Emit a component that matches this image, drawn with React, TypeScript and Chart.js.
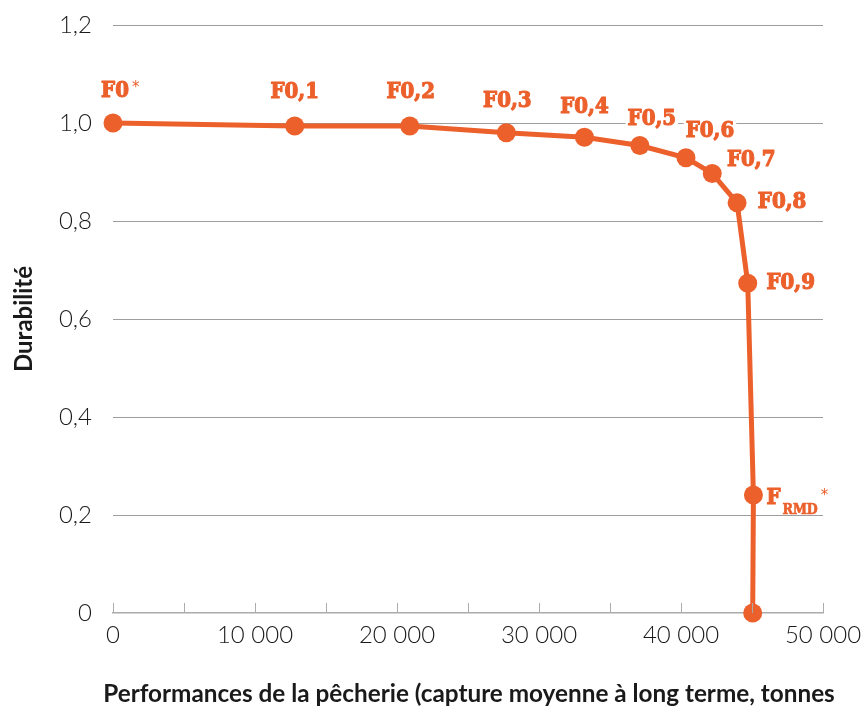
import React, { useEffect, useRef } from 'react';
import { Chart, registerables } from 'chart.js';

Chart.register(...registerables);

// ---- Data ----
const levelLabels = ['F0', 'F0,1', 'F0,2', 'F0,3', 'F0,4', 'F0,5', 'F0,6', 'F0,7', 'F0,8', 'F0,9', 'F', ''];
const levelSubscripts = ['', '', '', '', '', '', '', '', '', '', 'RMD', ''];
const levelSuperscripts = ['*', '', '', '', '', '', '', '', '', '', '*', ''];
const catchTonnes = [0, 12800, 20900, 27700, 33200, 37100, 40350, 42200, 43950, 44700, 45100, 45050];
const durability = [1.0, 0.994, 0.994, 0.98, 0.971, 0.954, 0.929, 0.897, 0.837, 0.673, 0.241, 0];

const xTitle = 'Performances de la pêcherie (capture moyenne à long terme, tonnes';
const yTitle = 'Durabilité';

// ---- Style ----
const ORANGE = '#EC602C';
const GRID = '#9e9e9e';
const AXIS = '#ababab';
const TEXT = '#1a1a1a';
const TICK_FONT = { family: 'Lato, "Open Sans", sans-serif', size: 24, weight: '300' as any };
const LABEL_FONT = 'bold 22px "DejaVu Serif Condensed", "DejaVu Serif", serif';
const SUB_FONT = 'bold 14px "DejaVu Serif Condensed", "DejaVu Serif", serif';
const STAR_FONT = '15px "DejaVu Sans", sans-serif';
const X_TITLE_WIDTH = 732;
const X_TITLE_CENTER = 469;
const X_TITLE_BASELINE = 702;
// label center offsets relative to each point (px)
const labelOffsets = [
  { dx: 2, dy: -34 },
  { dx: 0, dy: -36 },
  { dx: 1, dy: -36 },
  { dx: 1, dy: -34 },
  { dx: 0, dy: -32 },
  { dx: 12, dy: -29 },
  { dx: 24, dy: -29 },
  { dx: 39, dy: -15 },
  { dx: 45, dy: -3 },
  { dx: 43, dy: -2 },
  { dx: 20, dy: 1 },
  { dx: 0, dy: 0 },
];
const CAP = 16;

function labelBoxes(chart: any) {
  const meta = chart.getDatasetMeta(0);
  const ctx = chart.ctx;
  const out: any[] = [];
  meta.data.forEach((pt: any, i: number) => {
    const txt = levelLabels[i];
    if (!txt) return;
    ctx.save();
    ctx.font = LABEL_FONT;
    const w = ctx.measureText(txt).width;
    ctx.restore();
    const cx = pt.x + labelOffsets[i].dx;
    const cy = pt.y + labelOffsets[i].dy;
    out.push({ i, txt, w, cx, cy });
  });
  return out;
}

const labelPlugin = {
  id: 'levelLabels',
  beforeDatasetsDraw(chart: any) {
    const ctx = chart.ctx;
    ctx.save();
    ctx.fillStyle = '#ffffff';
    labelBoxes(chart).forEach((b) => {
      ctx.fillRect(b.cx - b.w / 2 - 2, b.cy - CAP / 2 - 3, b.w + 4, CAP + 8);
    });
    ctx.restore();
  },
  afterDatasetsDraw(chart: any) {
    const ctx = chart.ctx;
    ctx.save();
    ctx.fillStyle = ORANGE;
    ctx.strokeStyle = ORANGE;
    ctx.lineJoin = 'round';
    ctx.textBaseline = 'alphabetic';
    labelBoxes(chart).forEach((b) => {
      ctx.font = LABEL_FONT;
      ctx.textAlign = 'left';
      const x0 = b.cx - b.w / 2;
      const base = b.cy + CAP / 2;
      ctx.lineWidth = 1.1;
      ctx.fillText(b.txt, x0, base);
      ctx.strokeText(b.txt, x0, base);
      let xe = x0 + b.w;
      const sub = levelSubscripts[b.i];
      if (sub) {
        ctx.font = SUB_FONT;
        ctx.lineWidth = 0.6;
        ctx.fillText(sub, xe + 2, base + 10);
        ctx.strokeText(sub, xe + 2, base + 10);
        xe = xe + 2 + ctx.measureText(sub).width;
      }
      const sup = levelSuperscripts[b.i];
      if (sup) {
        ctx.font = STAR_FONT;
        ctx.fillText(sup, xe + 3, b.cy + (sub ? 4 : 3));
      }
    });
    ctx.restore();
  },
};

const xTickMarks = {
  id: 'xTickMarks',
  afterDraw(chart: any) {
    const sc = chart.scales.x;
    const ctx = chart.ctx;
    const y = chart.chartArea.bottom;
    ctx.save();
    ctx.strokeStyle = AXIS;
    ctx.lineWidth = 1;
    sc.ticks.forEach((t: any) => {
      const x = Math.round(sc.getPixelForValue(t.value)) + 0.5;
      ctx.beginPath();
      ctx.moveTo(x, y);
      ctx.lineTo(x, y - 10);
      ctx.stroke();
    });
    ctx.restore();
  },
};

// x-axis title is wider than the scale itself in the original, so it is drawn here
const xTitlePlugin = {
  id: 'xTitleWide',
  afterDraw(chart: any) {
    const ctx = chart.ctx;
    ctx.save();
    ctx.font = 'bold 20px Lato, "Open Sans", sans-serif';
    const w20 = ctx.measureText(xTitle).width;
    const size = (20 * X_TITLE_WIDTH) / w20;
    ctx.font = `bold ${size}px Lato, "Open Sans", sans-serif`;
    ctx.fillStyle = TEXT;
    ctx.textAlign = 'center';
    ctx.textBaseline = 'alphabetic';
    ctx.fillText(xTitle, X_TITLE_CENTER, X_TITLE_BASELINE);
    ctx.restore();
  },
};

function zeroPad(s: any) {
  s.paddingTop = 0;
  s.paddingBottom = 0;
  s.paddingLeft = 0;
  s.paddingRight = 0;
}

export default function App() {
  const ref = useRef<HTMLCanvasElement | null>(null);
  useEffect(() => {
    if (!ref.current) return;
    const chart = new Chart(ref.current, {
      type: 'line',
      data: {
        datasets: [
          {
            data: catchTonnes.map((x, i) => ({ x, y: durability[i] })),
            borderColor: ORANGE,
            backgroundColor: ORANGE,
            borderWidth: 5,
            pointRadius: 9.5,
            pointBorderWidth: 0,
            pointBackgroundColor: ORANGE,
            tension: 0,
            clip: false as any,
          },
        ],
      },
      options: {
        animation: false,
        responsive: false,
        events: [],
        layout: { padding: { left: 0, top: 25, right: 44, bottom: 0 }, autoPadding: false } as any,
        plugins: { legend: { display: false }, tooltip: { enabled: false } },
        scales: {
          x: {
            type: 'linear',
            min: 0,
            max: 50000,
            afterFit: (s: any) => { s.height = 93; zeroPad(s); },
            ticks: {
              stepSize: 5000,
              autoSkip: false,
              maxRotation: 0,
              padding: 8,
              color: TEXT,
              font: TICK_FONT,
              callback: (v: any) => (v % 10000 === 0 ? (v === 0 ? '0' : `${v / 1000} 000`) : ''),
            },
            grid: { display: false, drawTicks: false },
            border: { display: true, color: AXIS, width: 1.5 },
            title: { display: false, text: xTitle },
          },
          y: {
            type: 'linear',
            min: 0,
            max: 1.2,
            afterFit: (s: any) => { s.width = 113; zeroPad(s); },
            ticks: {
              stepSize: 0.2,
              padding: 21,
              color: TEXT,
              font: TICK_FONT,
              callback: (v: any) => (Math.abs(v) < 1e-9 ? '0' : Number(v).toFixed(1).replace('.', ',')),
            },
            grid: {
              drawTicks: false,
              color: (c: any) => (c.tick && Math.abs(c.tick.value) < 1e-9 ? 'rgba(0,0,0,0)' : GRID),
              lineWidth: 1,
            },
            border: { display: false },
            title: {
              display: true,
              text: yTitle,
              color: TEXT,
              font: { family: 'Lato, "Open Sans", sans-serif', size: 24, weight: 'bold' },
              padding: { top: 10, bottom: 0 },
            },
          },
        },
      },
      plugins: [labelPlugin, xTickMarks, xTitlePlugin],
    });
    return () => chart.destroy();
  }, []);
  return (
    <div style={{ position: 'fixed', left: 0, top: 0, width: 867, height: 706, background: '#fff' }}>
      <canvas ref={ref} width={867} height={706} style={{ display: 'block' }} />
    </div>
  );
}
